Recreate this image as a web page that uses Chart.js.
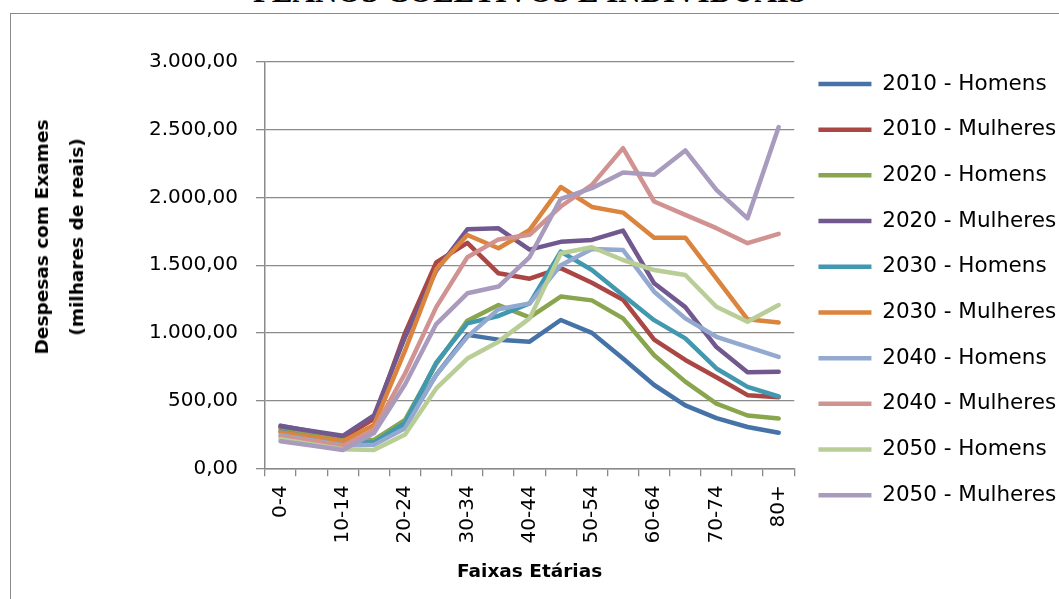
<!DOCTYPE html>
<html lang="pt">
<head>
    <meta charset="UTF-8">
    <title>Despesas com Exames - Planos Coletivos e Individuais</title>
    <script src="https://cdn.jsdelivr.net/npm/chart.js"></script>
    <style>
        body {
            margin: 0;
            width: 1059px;
            height: 599px;
            overflow: hidden;
            background-color: #ffffff;
            font-family: 'DejaVu Sans', sans-serif;
        }
        .heading {
            position: absolute;
            left: 0;
            top: -24px;
            width: 1059px;
            text-align: center;
            font-family: 'Liberation Serif', 'Times New Roman', serif;
            font-weight: bold;
            font-size: 31px;
            line-height: 31px;
            white-space: nowrap;
        }
        .frame {
            position: absolute;
            left: 10px;
            top: 13px;
            width: 1200px;
            height: 800px;
            border: 1.5px solid #8a8a8a;
        }
        #chart {
            position: absolute;
            left: 0;
            top: 0;
        }
        .ytitle {
            position: absolute;
            left: 59px;
            top: 237px;
            transform: translate(-50%, -50%) rotate(-90deg);
            text-align: center;
            font-weight: bold;
            font-size: 18.5px;
            line-height: 35px;
            white-space: nowrap;
        }
    </style>
</head>
<body>
    <div class="heading">PLANOS COLETIVOS E INDIVIDUAIS</div>
    <div class="frame"></div>
    <canvas id="chart" width="1059" height="599"></canvas>
    <div class="ytitle">Despesas com Exames<br>(milhares de reais)</div>
    <script>
        const ageGroups = ['0-4', '5-9', '10-14', '15-19', '20-24', '25-29', '30-34', '35-39', '40-44',
            '45-49', '50-54', '55-59', '60-64', '65-69', '70-74', '75-79', '80+'];

        const homens2010 = [315, 272, 230, 185, 321, 690, 985, 950, 935, 1095, 1000, 810, 615, 465, 370, 305, 263];
        const mulheres2010 = [300, 262, 225, 365, 1000, 1520, 1665, 1440, 1400, 1478, 1370, 1245, 950, 800, 672, 540, 525];
        const homens2020 = [285, 245, 205, 210, 358, 770, 1090, 1205, 1115, 1268, 1240, 1107, 835, 640, 478, 390, 367];
        const mulheres2020 = [310, 275, 240, 390, 970, 1460, 1765, 1772, 1615, 1672, 1686, 1755, 1366, 1190, 895, 710, 712];
        const homens2030 = [270, 230, 190, 190, 338, 780, 1070, 1125, 1218, 1600, 1464, 1277, 1094, 959, 737, 601, 530];
        const mulheres2030 = [265, 232, 200, 320, 870, 1470, 1723, 1625, 1760, 2077, 1930, 1888, 1703, 1703, 1403, 1100, 1077];
        const homens2040 = [245, 208, 170, 173, 296, 690, 970, 1175, 1218, 1500, 1620, 1612, 1304, 1107, 971, 897, 823];
        const mulheres2040 = [235, 200, 165, 285, 700, 1190, 1558, 1690, 1724, 1933, 2093, 2364, 1970, 1871, 1773, 1662, 1731];
        const homens2050 = [215, 178, 140, 136, 250, 590, 810, 935, 1107, 1588, 1632, 1538, 1464, 1427, 1193, 1082, 1205];
        const mulheres2050 = [200, 168, 135, 260, 620, 1065, 1292, 1342, 1560, 1990, 2068, 2184, 2167, 2347, 2056, 1846, 2520];

        const seriesNames = ['2010 - Homens', '2010 - Mulheres', '2020 - Homens', '2020 - Mulheres', '2030 - Homens',
            '2030 - Mulheres', '2040 - Homens', '2040 - Mulheres', '2050 - Homens', '2050 - Mulheres'];
        const seriesValues = [homens2010, mulheres2010, homens2020, mulheres2020, homens2030,
            mulheres2030, homens2040, mulheres2040, homens2050, mulheres2050];
        const seriesColors = ['#4572a7', '#aa4643', '#89a54e', '#71588f', '#4198af',
            '#db843d', '#93a9cf', '#d19392', '#b9cd96', '#a99bbd'];

        const yTicks = { min: 0, max: 3000, step: 500 };
        const gridColor = '#8a8a8a';

        // 3000 -> "3.000,00"
        function formatReais(value) {
            const whole = Math.round(value).toString().replace(/\B(?=(\d{3})+(?!\d))/g, '.');
            return whole + ',00';
        }

        Chart.defaults.font.family = "'DejaVu Sans', sans-serif";
        Chart.defaults.color = '#000';

        const datasets = seriesNames.map((name, i) => ({
            label: name,
            data: seriesValues[i],
            borderColor: seriesColors[i],
            backgroundColor: seriesColors[i],
            borderWidth: 4.5,
            borderCapStyle: 'round',
            borderJoinStyle: 'round',
            pointRadius: 0,
            tension: 0,
            fill: false,
            order: seriesNames.length - i  // later series drawn on top, like Excel
        }));

        new Chart(document.getElementById('chart'), {
            type: 'line',
            data: { labels: ageGroups, datasets: datasets },
            options: {
                responsive: false,
                animation: false,
                layout: { padding: { top: 49, right: 0, bottom: 0, left: 0 } },
                scales: {
                    x: {
                        offset: true,
                        grid: { offset: true, drawOnChartArea: false, color: gridColor, lineWidth: 1.3, tickLength: 8 },
                        border: { color: gridColor, width: 1.5 },
                        ticks: {
                            autoSkip: false,
                            minRotation: 90,
                            maxRotation: 90,
                            padding: 9,
                            font: { size: 20 },
                            callback: function (value, index) {
                                return index % 2 === 0 ? this.getLabelForValue(value) : '';
                            }
                        },
                        title: {
                            display: true,
                            text: 'Faixas Etárias',
                            font: { size: 18.5, weight: 'bold' },
                            padding: { top: 0, bottom: 16 }
                        },
                        afterFit: scale => { scale.height = 130.7; }
                    },
                    y: {
                        min: yTicks.min,
                        max: yTicks.max,
                        grid: { color: gridColor, lineWidth: 1.3, tickLength: 9 },
                        border: { color: gridColor, width: 1.5 },
                        ticks: {
                            stepSize: yTicks.step,
                            padding: 18,
                            font: { size: 20 },
                            callback: value => formatReais(value)
                        },
                        afterFit: scale => { scale.width = 265; }
                    }
                },
                plugins: {
                    // empty box that keeps the plot below the legend's first row
                    title: { display: true, text: '', fullSize: false, padding: 0, font: { size: 13, lineHeight: 1 } },
                    legend: {
                        position: 'right',
                        align: 'start',
                        labels: {
                            usePointStyle: true,
                            pointStyle: 'line',
                            pointStyleWidth: 53,
                            padding: 24.2,
                            font: { size: 21.5 },
                            color: '#000',
                            sort: (a, b) => a.datasetIndex - b.datasetIndex
                        }
                    },
                    tooltip: { enabled: false }
                }
            }
        });
    </script>
</body>
</html>
